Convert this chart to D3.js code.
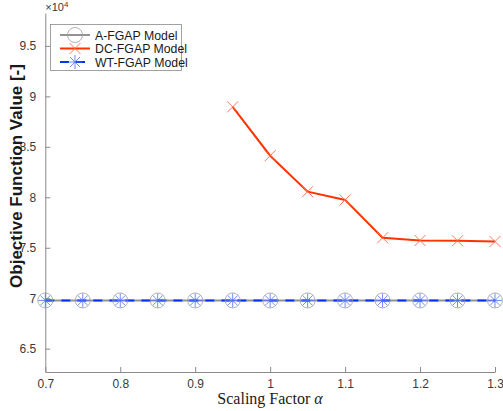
<!DOCTYPE html>
<html>
<head>
<meta charset="utf-8">
<script src="https://cdn.jsdelivr.net/npm/d3@7"></script>
<style>
  body { margin: 0; background: #fff; }
  svg { font-family: "Liberation Sans", Arial, sans-serif; }
</style>
</head>
<body>
<div id="chart"></div>
<script>
// scaling factors and objective values per model
const alphas = [0.7, 0.75, 0.8, 0.85, 0.9, 0.95, 1.0, 1.05, 1.1, 1.15, 1.2, 1.25, 1.3];
const aFgap = [69780, 69780, 69780, 69780, 69780, 69780, 69780, 69780, 69780, 69780, 69780, 69780, 69780];
const wtFgap = [69780, 69780, 69780, 69780, 69780, 69780, 69780, 69780, 69780, 69780, 69780, 69780, 69780];
const dcAlphas = [0.95, 1.0, 1.05, 1.1, 1.15, 1.2, 1.25, 1.3];
const dcFgap = [88960, 84120, 80560, 79740, 75990, 75720, 75690, 75620];

const xTicks = [0.7, 0.8, 0.9, 1.0, 1.1, 1.2, 1.3];
const yTicks = [65000, 70000, 75000, 80000, 85000, 90000, 95000];

const width = 503, height = 411;
const mLeft = 45.3, mRight = 495, mTop = 13, mBottom = 372;

const svg = d3.select('#chart').append('svg')
  .attr('width', width)
  .attr('height', height);

const x = d3.scaleLinear().domain([0.7, 1.3]).range([mLeft, mRight]);
const y = d3.scaleLinear().domain([62690, 98260]).range([mBottom, mTop]);

const axisColor = '#8a8a8a';
const textColor = '#3a3a3a';

// axes, ticks pointing inward like matlab
const xAxis = svg.append('g')
  .attr('transform', 'translate(0,' + mBottom + ')')
  .call(d3.axisBottom(x).tickValues(xTicks).tickSizeInner(-5).tickSizeOuter(0)
    .tickPadding(7).tickFormat(d3.format('')));

const yAxis = svg.append('g')
  .attr('transform', 'translate(' + mLeft + ',0)')
  .call(d3.axisLeft(y).tickValues(yTicks).tickSizeInner(-5).tickSizeOuter(0)
    .tickPadding(9).tickFormat(d => d3.format('')(d / 10000)));

[xAxis, yAxis].forEach(a => {
  a.select('.domain').attr('stroke', axisColor).attr('stroke-width', 1);
  a.selectAll('.tick line').attr('stroke', axisColor);
  a.selectAll('.tick text').attr('fill', textColor).attr('font-size', 12);
});

// exponent label
const expo = svg.append('text')
  .attr('x', mLeft)
  .attr('y', 11)
  .attr('fill', textColor)
  .attr('font-size', 11);
expo.append('tspan').text('\u00d710');
expo.append('tspan').attr('dy', -4).attr('font-size', 8).text('4');

// axis titles
svg.append('text')
  .attr('transform', 'translate(22,176) rotate(-90)')
  .attr('text-anchor', 'middle')
  .attr('font-weight', 'bold')
  .attr('font-size', 17)
  .attr('fill', '#1a1a1a')
  .text('Objective Function Value [-]');

const xt = svg.append('text')
  .attr('x', 270)
  .attr('y', 404)
  .attr('text-anchor', 'middle')
  .attr('font-family', '"Liberation Serif", "Times New Roman", serif')
  .attr('font-size', 16)
  .attr('fill', '#1a1a1a');
xt.append('tspan').text('Scaling Factor ');
xt.append('tspan').attr('font-style', 'italic').text('\u03b1');

const line = d3.line().x(d => x(d[0])).y(d => y(d[1]));

const grey = '#939393', red = '#ff3300', blue = '#0033ff';

// A-FGAP: grey solid with open circles
const aPts = alphas.map((a, i) => [a, aFgap[i]]);
svg.append('path').datum(aPts).attr('d', line)
  .attr('fill', 'none').attr('stroke', grey).attr('stroke-width', 2);

// DC-FGAP: red with x markers
const dcPts = dcAlphas.map((a, i) => [a, dcFgap[i]]);
svg.append('path').datum(dcPts).attr('d', line)
  .attr('fill', 'none').attr('stroke', red).attr('stroke-width', 2);

// WT-FGAP: blue dashed with asterisks
const wtPts = alphas.map((a, i) => [a, wtFgap[i]]);
svg.append('path').datum(wtPts).attr('d', line)
  .attr('fill', 'none').attr('stroke', blue).attr('stroke-width', 2)
  .attr('stroke-dasharray', '9,7');

function circleMark(g, cx, cy) {
  g.append('circle').attr('cx', cx).attr('cy', cy).attr('r', 7.5)
    .attr('fill', 'none').attr('stroke', '#a0a0a0').attr('stroke-width', 0.8);
}
function xMark(g, cx, cy, s, col) {
  g.append('path')
    .attr('d', `M${cx - s},${cy - s}L${cx + s},${cy + s}M${cx - s},${cy + s}L${cx + s},${cy - s}`)
    .attr('stroke', col).attr('stroke-width', 0.9).attr('fill', 'none');
}
function starMark(g, cx, cy, s, col) {
  const d = s * 0.7071;
  g.append('path')
    .attr('d', `M${cx - s},${cy}L${cx + s},${cy}M${cx},${cy - s}L${cx},${cy + s}` +
      `M${cx - d},${cy - d}L${cx + d},${cy + d}M${cx - d},${cy + d}L${cx + d},${cy - d}`)
    .attr('stroke', col).attr('stroke-width', 0.8).attr('fill', 'none');
}

const marks = svg.append('g');
aPts.forEach(p => circleMark(marks, x(p[0]), y(p[1])));
dcPts.forEach(p => xMark(marks, x(p[0]), y(p[1]), 5.5, '#ff6a4d'));
wtPts.forEach(p => starMark(marks, x(p[0]), y(p[1]), 7, '#4d70ff'));

// legend
const legend = svg.append('g');
legend.append('rect')
  .attr('x', 50.5).attr('y', 24.5).attr('width', 131).attr('height', 46)
  .attr('fill', '#fff').attr('stroke', '#8a8a8a').attr('stroke-width', 0.8);

const entries = [
  { name: 'A-FGAP Model', col: grey, dash: null, mark: 'o' },
  { name: 'DC-FGAP Model', col: red, dash: null, mark: 'x' },
  { name: 'WT-FGAP Model', col: blue, dash: '9,7', mark: '*' }
];
entries.forEach((e, i) => {
  const ly = 35 + i * 13.5;
  legend.append('line')
    .attr('x1', 60).attr('x2', 90).attr('y1', ly).attr('y2', ly)
    .attr('stroke', e.col).attr('stroke-width', 2)
    .attr('stroke-dasharray', e.dash);
  if (e.mark === 'o') circleMark(legend, 75, ly);
  if (e.mark === 'x') xMark(legend, 75, ly, 5.5, '#ff6a4d');
  if (e.mark === '*') starMark(legend, 75, ly, 7, '#4d70ff');
  legend.append('text')
    .attr('x', 95).attr('y', ly + 4.5)
    .attr('font-size', 12.3)
    .attr('fill', '#1a1a1a')
    .text(e.name);
});
</script>
</body>
</html>
